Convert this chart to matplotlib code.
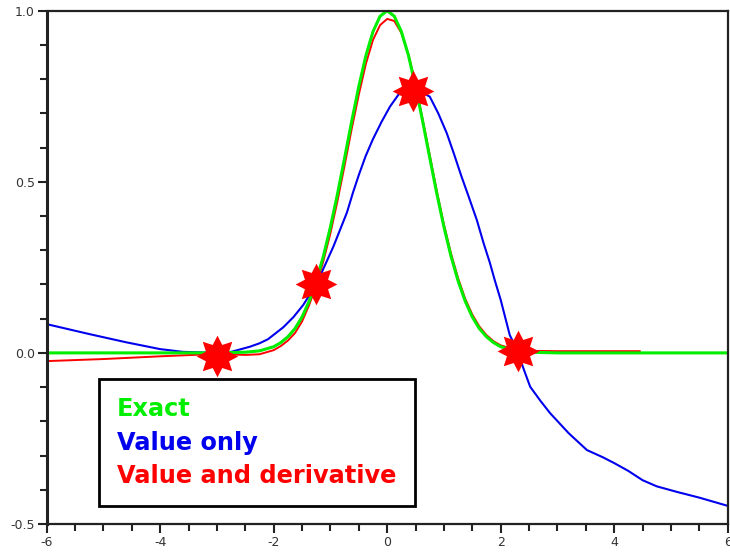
import numpy
import matplotlib
matplotlib.use("Agg")
import matplotlib.pyplot as plt

# values
exact_x = [-6.0, -3.0, -2.5, -2.25, -2.0, -1.875, -1.75, -1.625, -1.5, -1.375, -1.25, -1.125, -1.0,
           -0.875, -0.75, -0.625, -0.5, -0.375, -0.25, -0.125, 0.0, 0.125, 0.25, 0.375, 0.5, 0.625,
           0.75, 0.875, 1.0, 1.125, 1.25, 1.375, 1.5, 1.625, 1.75, 1.875, 2.0, 2.25, 2.5, 3.0, 6.0]
exact_y = [0.0, 0.0, 0.002, 0.006, 0.018, 0.030, 0.047, 0.071, 0.105, 0.151, 0.21, 0.282, 0.368,
           0.465, 0.57, 0.677, 0.779, 0.869, 0.939, 0.984, 1.0, 0.984, 0.939, 0.869, 0.779, 0.677,
           0.57, 0.465, 0.368, 0.282, 0.21, 0.151, 0.105, 0.071, 0.047, 0.030, 0.018, 0.006, 0.002, 0.0, 0.0]

value_x = [-6.0, -5.25, -4.6, -4.0, -3.6, -3.0, -2.75, -2.42, -2.25, -2.1, -1.83, -1.65, -1.48, -1.25,
           -1.1, -0.95, -0.83, -0.71, -0.6, -0.5, -0.38, -0.25, -0.1, 0.05, 0.2, 0.32, 0.45, 0.6,
           0.75, 0.9, 1.05, 1.18, 1.3, 1.45, 1.58, 1.7, 1.81, 1.9, 2.0, 2.16, 2.3, 2.4, 2.52, 2.7,
           2.87, 3.2, 3.52, 3.8, 4.0, 4.25, 4.5, 4.75, 5.1, 5.5, 6.0]
value_y = [0.084, 0.055, 0.031, 0.011, 0.003, 0.0, 0.003, 0.018, 0.028, 0.04, 0.075, 0.105, 0.14, 0.2,
           0.255, 0.31, 0.36, 0.41, 0.47, 0.52, 0.575, 0.625, 0.675, 0.72, 0.755, 0.765, 0.765, 0.762,
           0.749, 0.70, 0.642, 0.58, 0.52, 0.45, 0.388, 0.32, 0.263, 0.21, 0.155, 0.052, 0.005, -0.045,
           -0.099, -0.14, -0.176, -0.235, -0.284, -0.305, -0.322, -0.345, -0.372, -0.39, -0.406, -0.423, -0.447]

deriv_x = [-6.0, -5.0, -4.0, -3.0, -2.5, -2.25, -2.0, -1.875, -1.75, -1.625, -1.5, -1.375, -1.25,
           -1.125, -1.0, -0.875, -0.75, -0.625, -0.5, -0.375, -0.25, -0.125, 0.0, 0.125, 0.25, 0.375,
           0.5, 0.625, 0.75, 0.875, 1.0, 1.125, 1.25, 1.375, 1.5, 1.625, 1.75, 1.875, 2.0, 2.25, 2.5,
           3.0, 4.45]
deriv_y = [-0.024, -0.018, -0.010, -0.003, -0.006, -0.004, 0.008, 0.02, 0.036, 0.058, 0.092, 0.14, 0.198,
           0.268, 0.35, 0.445, 0.548, 0.655, 0.755, 0.845, 0.915, 0.958, 0.976, 0.97, 0.935, 0.872,
           0.785, 0.682, 0.578, 0.472, 0.375, 0.29, 0.218, 0.158, 0.112, 0.077, 0.052, 0.034, 0.022, 0.01, 0.006,
           0.005, 0.005]

nodes_x = [-3.0, -1.25, 0.45, 2.3]
nodes_y = [-0.01, 0.2, 0.765, 0.006]

labels = ["Exact", "Value only", "Value and derivative"]
colors = ["#00ee00", "#0000ee", "#ff0000"]


def starMarker(points, inner):
    ang = numpy.pi / 2 + numpy.arange(2 * points) * numpy.pi / points
    rad = numpy.where(numpy.arange(2 * points) % 2 == 0, 1.0, inner)
    verts = numpy.column_stack((rad * numpy.cos(ang), rad * numpy.sin(ang)))
    return numpy.vstack((verts, verts[:1]))


fig = plt.figure(figsize=(7.3, 5.55), dpi=100)
ax = fig.add_axes([0.064, 0.0559, 0.9328, 0.9248])

ax.plot(value_x, value_y, color=colors[1], lw=1.5, label=labels[1])
ax.plot(deriv_x, deriv_y, color=colors[2], lw=1.4, label=labels[2])
ax.plot(exact_x, exact_y, color=colors[0], lw=2.2, label=labels[0])
ax.plot(nodes_x, nodes_y, ls="none", marker=starMarker(8, 0.6), ms=30,
        color="#ff0000", mew=0, zorder=5)

ax.set_xlim(-6, 6)
ax.set_ylim(-0.5, 1.0)
ax.set_xticks(numpy.arange(-6, 7, 2))
ax.set_xticks(numpy.arange(-6, 6.01, 0.5), minor=True)
ax.set_yticks([-0.5, 0.0, 0.5, 1.0])
ax.set_yticks(numpy.arange(-0.5, 1.01, 0.1), minor=True)
ax.set_xticklabels(["-6", "-4", "-2", "0", "2", "4", "6"])
ax.set_yticklabels(["-0.5", "0.0", "0.5", "1.0"])
ax.tick_params(which="both", direction="out", width=1.5, color="#222222",
               labelsize=9, labelcolor="#333333", top=False, right=False)
ax.tick_params(which="major", length=6.5, pad=2)
ax.tick_params(which="minor", length=5)
for side in ax.spines:
    ax.spines[side].set_linewidth(1.6)
    ax.spines[side].set_color("#222222")
ax.spines["left"].set_linewidth(2.2)

handles, _ = ax.get_legend_handles_labels()
order = [2, 0, 1]
leg = ax.legend([handles[i] for i in order], labels, loc="upper left",
                bbox_to_anchor=(0.077, 0.282), borderaxespad=0, handlelength=0,
                handletextpad=0, labelcolor=colors, fancybox=False, framealpha=1,
                edgecolor="black", borderpad=0.75, labelspacing=0.4,
                prop={"family": "DejaVu Sans", "weight": "bold", "size": 17.3})
leg.get_frame().set_linewidth(2)
for h in leg.legend_handles:
    h.set_visible(False)

fig.savefig("out.png", dpi=100)
